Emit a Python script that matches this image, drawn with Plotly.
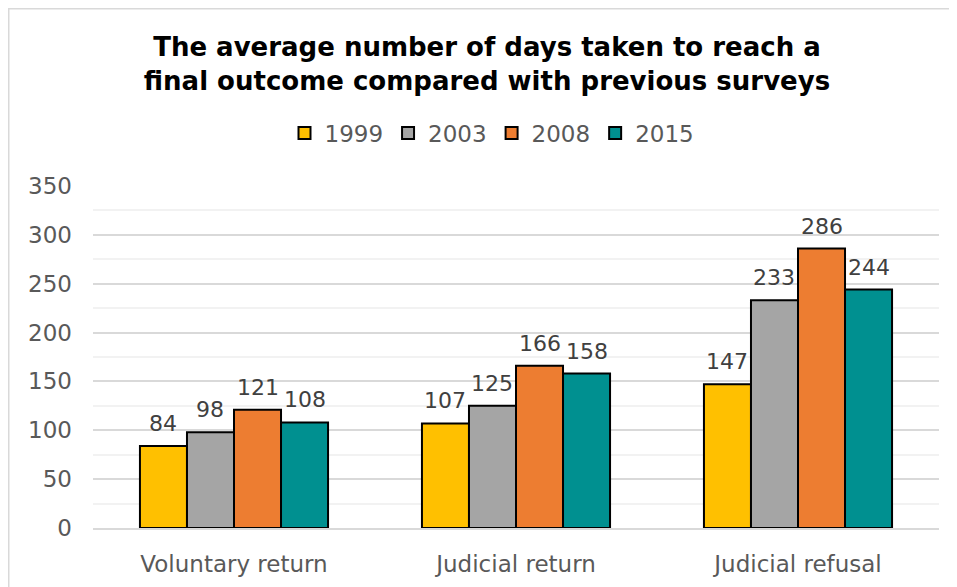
import plotly.graph_objects as go

categories = ["Voluntary return", "Judicial return", "Judicial refusal"]
years = ["1999", "2003", "2008", "2015"]
values_1999 = [84, 107, 147]
values_2003 = [98, 125, 233]
values_2008 = [121, 166, 286]
values_2015 = [108, 158, 244]
series = [values_1999, values_2003, values_2008, values_2015]
colors = ["#FFC000", "#A5A5A5", "#ED7D31", "#009090"]

FONT = "Verdana, DejaVu Sans, sans-serif"

W, H = 957, 587
L, R, T, B = 85, 26, 178, 67
pw, ph = W - L - R, H - T - B
BARGAP = 0.333

fig = go.Figure()
for name, vals, col in zip(years, series, colors):
    fig.add_trace(go.Bar(
        x=categories, y=vals, name=name,
        marker=dict(color=col, line=dict(color="black", width=2)),
    ))

# value labels placed above each bar (offset to the bar within its group)
cat_px = pw / len(categories)
bar_px = cat_px * (1 - BARGAP) / len(series)
annotations = []
for i, vals in enumerate(series):
    shift = (i - (len(series) - 1) / 2) * bar_px
    for c, v in zip(categories, vals):
        annotations.append(dict(
            x=c, y=v, xref="x", yref="y", text=str(v), showarrow=False,
            xanchor="center", yanchor="bottom", xshift=shift, yshift=8,
            font=dict(family=FONT, size=22, color="#404040"),
        ))

fig.update_layout(
    width=W, height=H,
    margin=dict(l=L, r=R, t=T, b=B),
    paper_bgcolor="white", plot_bgcolor="white",
    barmode="group", bargap=BARGAP, bargroupgap=0,
    annotations=annotations,
    title=dict(
        text="<b>The average number of days taken to reach a<br>final outcome compared with previous surveys</b>",
        font=dict(family=FONT, size=26, color="black"),
        x=479 / W, xanchor="center", y=1 - 48 / H, yanchor="middle",
    ),
    legend=dict(
        orientation="h", x=(484 - L) / pw, xanchor="center",
        y=(H - B - 125) / ph, yanchor="middle",
        font=dict(family=FONT, size=23, color="#595959"),
        itemwidth=30, traceorder="normal",
    ),
    xaxis=dict(
        tickfont=dict(family=FONT, size=23, color="#595959"),
        showline=True, linecolor="#d9d9d9", linewidth=1.5,
        ticks="", showgrid=False, ticklabelstandoff=15,
    ),
    yaxis=dict(
        range=[0, 350], dtick=50,
        tickfont=dict(family=FONT, size=23, color="#595959"),
        showgrid=True, gridcolor="#d9d9d9", gridwidth=1.5,
        minor=dict(dtick=25, showgrid=True, gridcolor="#f2f2f2", gridwidth=1.5),
        zeroline=False, ticks="", ticklabelstandoff=20,
    ),
    shapes=[dict(
        type="rect", xref="paper", yref="paper",
        x0=(0.75 - L) / pw, x1=(W + 20 - L) / pw,
        y0=(H - B - (H + 20)) / ph, y1=(H - B - 0.75) / ph,
        line=dict(color="#d9d9d9", width=1.5), fillcolor="rgba(0,0,0,0)",
        layer="below",
    )],
)

fig.write_html("out.html")
